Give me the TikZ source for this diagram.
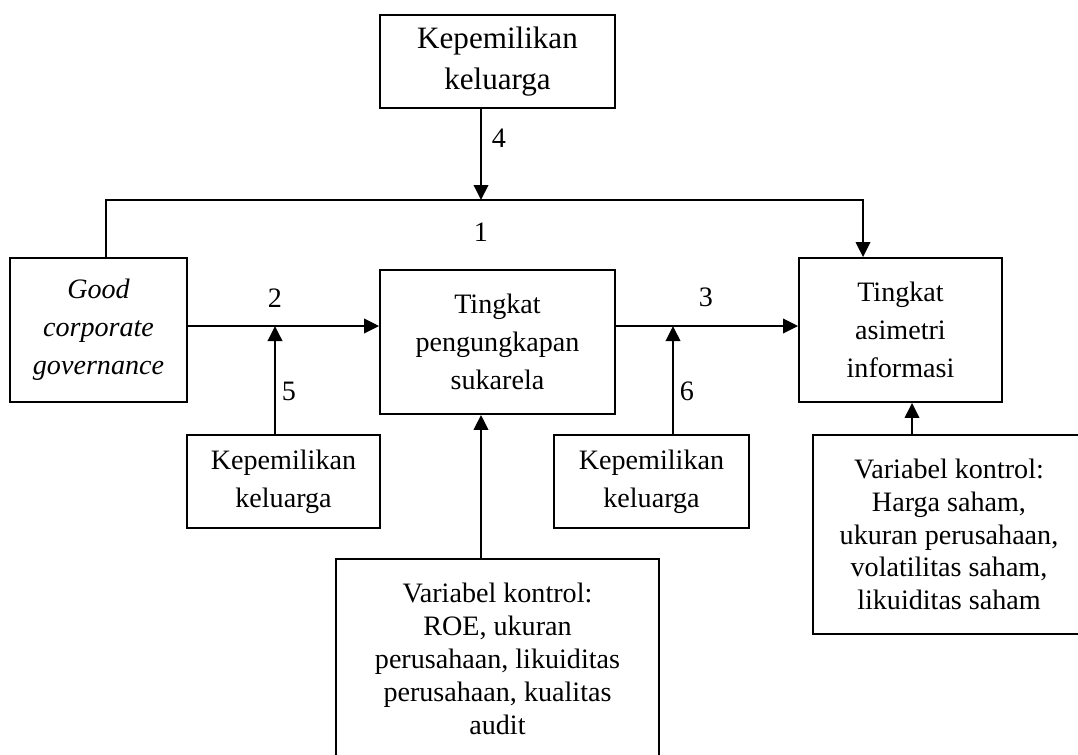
\documentclass[tikz,border=0pt]{standalone}
\usepackage{fontspec}
\setmainfont{Liberation Serif}
\usetikzlibrary{arrows.meta}
\tikzset{%
	block/.style    = {draw, line width=1.1pt, rectangle, inner sep=0pt,
		align=center, font=\fontsize{16}{21.5}\selectfont},
	ctrl/.style     = {block, font=\fontsize{16}{18.7}\selectfont}, % Control variables
	num/.style      = {inner sep=0pt, font=\fontsize{16}{19}\selectfont}, % Path number
	link/.style     = {line width=1.1pt, -{Triangle[length=0.3cm, width=0.29cm]}}
}
\begin{document}
\begin{tikzpicture}[x=0.02cm, y=-0.02cm]
                \useasboundingbox (0,0) rectangle (1078,754);
                \clip (0,0) rectangle (1078,754);

                \node[block, minimum width=4.7cm, minimum height=1.86cm,
                      font=\fontsize{17.7}{23.5}\selectfont] (kelTop) at (497.5,61.5) {Kepemilikan\\keluarga};
                \node[block, minimum width=3.54cm, minimum height=2.88cm] (gcg) at (98.5,330) {\itshape Good\\\itshape corporate\\\itshape governance};
                \node[block, minimum width=4.7cm, minimum height=2.88cm] (peng) at (497.5,342) {Tingkat\\pengungkapan\\sukarela};
                \node[block, minimum width=4.06cm, minimum height=2.88cm] (asim) at (900.5,330) {Tingkat\\asimetri\\informasi};
                \node[block, minimum width=3.86cm, minimum height=1.86cm] (kelL) at (283.5,481.5) {Kepemilikan\\keluarga};
                \node[block, minimum width=3.9cm, minimum height=1.86cm] (kelR) at (651.5,481.5) {Kepemilikan\\keluarga};
                \node[ctrl, minimum width=6.46cm, minimum height=4cm] (ctrlPeng) at (497.5,659) {Variabel kontrol:\\ROE, ukuran\\perusahaan, likuiditas\\perusahaan, kualitas\\audit};
                \node[ctrl, minimum width=5.44cm, minimum height=3.98cm] (ctrlAsim) at (949,534.5) {Variabel kontrol:\\Harga saham,\\ukuran perusahaan,\\volatilitas saham,\\likuiditas saham};

                \coordinate (j1) at (481,200);
                \coordinate (c1a) at (106,200);
                \coordinate (c1b) at (863,200);
                \coordinate (j2) at (275,326);
                \coordinate (j3) at (673,326);
                \coordinate (c7) at (912,402);

                \draw[link] (gcg.north -| c1a) -- (c1a) -- (c1b) -- (asim.north -| c1b);
                \draw[link] (kelTop.south -| j1) -- (j1);
                \draw[link] (gcg.east |- j2) -- (peng.west |- j2);
                \draw[link] (kelL.north -| j2) -- (j2);
                \draw[link] (peng.east |- j3) -- (asim.west |- j3);
                \draw[link] (kelR.north -| j3) -- (j3);
                \draw[link] (ctrlPeng.north -| j1) -- (peng.south -| j1);
                \draw[link] (ctrlAsim.north -| c7) -- (asim.south -| c7);

                \node[num] (n1) at (481,232) {1};
                \node[num] (n2) at (275,298) {2};
                \node[num] (n3) at (706,297) {3};
                \node[num] (n4) at (499,138) {4};
                \node[num] (n5) at (289,391) {5};
                \node[num] (n6) at (687,391) {6};
            \end{tikzpicture}
\end{document}
